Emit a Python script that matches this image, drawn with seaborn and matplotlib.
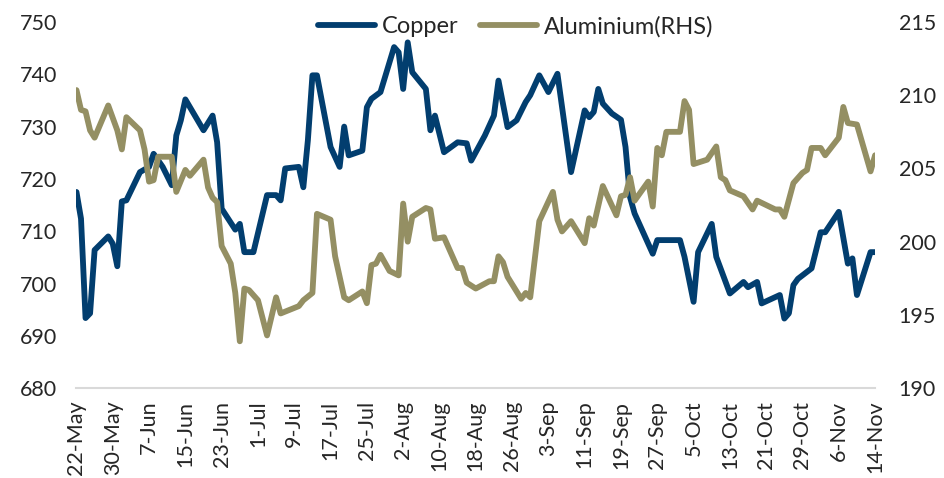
import pandas as pd
import seaborn as sns
import matplotlib.pyplot as plt
import matplotlib.dates as mdates

# values (day offsets from 22-May)
start = pd.Timestamp('2018-05-22')

copper_days = [0, 1, 2, 3, 4, 7, 8, 9, 10, 11, 14, 16, 17, 19, 21, 22, 23, 24, 28, 30,
               31, 32, 35, 36, 37, 39, 42, 44, 45, 46, 49, 50, 51, 52, 53, 56, 58, 59, 60, 63,
               64, 65, 67, 70, 71, 72, 73, 74, 77, 78, 79, 81, 84, 86, 87, 90, 92, 93, 95, 97,
               99, 100, 102, 104, 106, 109, 112, 113, 114, 115, 116, 118, 120, 121, 122, 123, 127, 128, 133, 134,
               136, 137, 140, 141, 144, 147, 148, 150, 151, 155, 156, 157, 158, 159, 162, 164, 165, 168, 170, 171,
               172, 175, 176]
copper = [717.5, 712.4, 693.4, 694.3, 706.4, 709.0, 707.6, 703.3, 715.7, 715.9, 721.3, 722.3, 724.8, 722.3, 718.8, 728.3, 731.2, 735.2, 729.3, 732.1,
          727.0, 714.3, 710.3, 711.4, 706.0, 706.0, 716.9, 716.9, 715.9, 722.0, 722.3, 718.4, 727.4, 739.8, 739.8, 726.1, 722.3, 730.0, 724.5, 725.4,
          733.7, 735.3, 736.6, 745.2, 744.2, 737.2, 746.1, 740.4, 737.2, 729.3, 732.1, 725.1, 727.0, 726.8, 723.5, 728.3, 732.1, 738.8, 729.9, 731.2,
          734.7, 736.0, 739.8, 736.6, 740.1, 721.3, 733.1, 731.8, 732.8, 737.2, 734.4, 732.5, 731.3, 726.1, 716.5, 713.4, 705.7, 708.3, 708.3, 705.1,
          696.5, 706.0, 711.4, 705.1, 698.1, 700.3, 699.3, 700.3, 696.2, 697.8, 693.3, 694.3, 699.7, 700.9, 702.9, 709.8, 709.8, 713.7, 703.8, 704.8,
          697.8, 706.0, 706.0]

alu_days = [0, 1, 2, 3, 4, 7, 9, 10, 11, 14, 15, 16, 17, 18, 21, 22, 24, 25, 28, 29,
            30, 31, 32, 34, 35, 36, 37, 38, 40, 42, 44, 45, 49, 50, 52, 53, 56, 57, 59, 60,
            63, 64, 65, 66, 67, 69, 71, 72, 73, 74, 77, 78, 79, 81, 84, 85, 86, 88, 91, 92,
            93, 94, 95, 98, 99, 100, 102, 105, 106, 107, 109, 112, 113, 114, 116, 119, 120, 121, 122, 123,
            126, 127, 128, 129, 130, 133, 134, 135, 136, 139, 141, 142, 143, 144, 147, 149, 150, 154, 155, 156,
            158, 160, 161, 162, 164, 165, 168, 169, 170, 172, 175, 176]
aluminium = [210.35, 209.0, 208.9, 207.6, 207.1, 209.3, 207.6, 206.3, 208.5, 207.6, 206.3, 204.1, 204.2, 205.8, 205.8, 203.4, 204.9, 204.5, 205.6, 203.7,
             203.0, 202.7, 199.7, 198.5, 196.5, 193.2, 196.8, 196.7, 196.0, 193.6, 196.2, 195.1, 195.6, 196.0, 196.5, 201.9, 201.5, 199.0, 196.2, 196.0,
             196.6, 195.8, 198.4, 198.5, 199.1, 198.0, 197.7, 202.6, 200.0, 201.7, 202.3, 202.2, 200.2, 200.3, 198.2, 198.2, 197.2, 196.8, 197.3, 197.3,
             199.0, 198.6, 197.6, 196.1, 196.5, 196.2, 201.4, 203.4, 201.5, 200.7, 201.4, 199.9, 201.6, 201.1, 203.8, 201.8, 203.1, 203.2, 204.4, 202.8,
             204.1, 202.4, 206.4, 205.9, 207.5, 207.5, 209.6, 209.0, 205.3, 205.6, 206.5, 204.4, 204.2, 203.5, 203.1, 202.2, 202.8, 202.2, 202.2, 201.7,
             204.0, 204.7, 204.9, 206.4, 206.4, 205.9, 207.1, 209.2, 208.1, 208.0, 204.8, 205.9]

cu = pd.DataFrame({'date': start + pd.to_timedelta(copper_days, unit='D'), 'value': copper})
al = pd.DataFrame({'date': start + pd.to_timedelta(alu_days, unit='D'), 'value': aluminium})

sns.set_style('white')
plt.rcParams['font.family'] = ['Lato', 'DejaVu Sans']

fig = plt.figure(figsize=(9.44, 4.78), dpi=100)
ax = fig.add_axes([0.081, 0.188, 0.846, 0.766])
ax2 = ax.twinx()

sns.lineplot(data=cu, x='date', y='value', ax=ax, color='#023E6F', linewidth=4.2, label='Copper', legend=False)
sns.lineplot(data=al, x='date', y='value', ax=ax2, color='#948F63', linewidth=4.2, label='Aluminium(RHS)', legend=False)

ax.set_xlim(start, start + pd.Timedelta(days=176))
ax.set_ylim(680, 750)
ax.set_yticks(range(680, 751, 10))
ax2.set_ylim(190, 215)
ax2.set_yticks(range(190, 216, 5))

ticks = pd.date_range(start, start + pd.Timedelta(days=176), freq='8D')
ax.set_xticks(ticks)
ax.xaxis.set_major_formatter(mdates.DateFormatter('%-d-%b'))
for lab in ax.get_xticklabels():
    lab.set_rotation(90)

ax.set_xlabel('')
ax.set_ylabel('')
ax2.set_ylabel('')
for a in (ax, ax2):
    for s in ('top', 'left', 'right'):
        a.spines[s].set_visible(False)
    a.spines['bottom'].set_color('#D9D9D9')
    a.spines['bottom'].set_linewidth(1.5)
ax2.spines['bottom'].set_visible(False)

ax.tick_params(axis='x', length=5, color='#D9D9D9', width=1.2, labelsize=15.5, pad=4)
ax.tick_params(axis='y', length=0, labelsize=15.5, pad=14)
ax2.tick_params(axis='y', length=0, labelsize=15.5, pad=17)

h1, l1 = ax.get_legend_handles_labels()
h2, l2 = ax2.get_legend_handles_labels()
ax.legend(h1 + h2, l1 + l2, loc='upper center', bbox_to_anchor=(0.55, 1.075), ncol=2,
          frameon=False, fontsize=17, handlelength=2.4, columnspacing=0.9, handletextpad=0.3)

plt.savefig('out.png', dpi=100)
